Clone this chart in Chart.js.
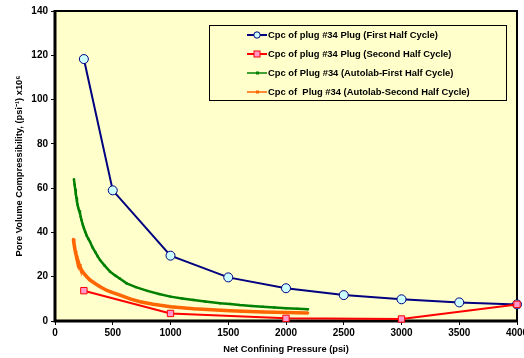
<!DOCTYPE html>
<html><head><meta charset="utf-8">
<script src="https://cdn.jsdelivr.net/npm/chart.js@4"></script>
<style>html,body{margin:0;padding:0;background:#fff}#wrap{width:524px;height:358px}</style>
</head><body><div id="wrap"><canvas id="c" width="524" height="358"></canvas></div>
<script>
const labels1 = ["Cpc of plug #34 Plug (First Half Cycle)","Cpc of plug #34 Plug (Second Half Cycle)","Cpc of Plug #34 (Autolab-First Half Cycle)","Cpc of  Plug #34 (Autolab-Second Half Cycle)"];
const firstP = [250,500,1000,1500,2000,2500,3000,3500,4000];
const firstV = [118.3,59,29.5,19.7,14.8,11.7,9.8,8.4,7.5];
const secondP = [250,1000,2000,3000,4000];
const secondV = [13.7,3.4,1.2,0.9,7.5];
const autoFirstP = [164,170,175,180,185,190,195,200,208,216,223,230,240,250,262,275,290,303,325,350,370,390,430,476,520,560,620,700,800,900,1000,1100,1200,1300,1430,1515,1600,1700,1800,1900,2000,2100,2190];
const autoFirstV = [64,61.5,59.5,57.5,55.7,54,52.6,51.3,50,48.7,47,45.5,43.6,42,40.2,38.5,37,35.8,33.2,31,29.2,27.5,25,22.3,20.6,19.2,17,15.3,13.6,12.2,11,10.2,9.5,8.8,8,7.7,7.2,6.8,6.4,6.1,5.8,5.5,5.3];
const autoSecondP = [159,163,167,170,175,180,185,190,200,208,216,230,250,275,303,350,390,450,500,563,650,736,850,1000,1200,1515,1800,2000,2190];
const autoSecondV = [37,35.5,34,33,31.7,30.5,29.5,28.5,27,25.7,24.5,23,21.5,20,18.5,16.8,15.5,13.8,12.8,11.7,10,8.7,7.6,6.4,5.5,4.6,4.1,3.8,3.6];
const xTicks = [0,500,1000,1500,2000,2500,3000,3500,4000];
const yTicks = [0,20,40,60,80,100,120,140];

const toXY = (p,v)=>p.map((x,i)=>({x:x,y:v[i]}));
const FONT = "'Liberation Sans', Arial, sans-serif";

const bgPlugin = {
  id:'bg',
  beforeDraw(chart){
    const {ctx, chartArea:a} = chart;
    ctx.save(); ctx.fillStyle='#FFFFCC'; ctx.fillRect(a.left,a.top,a.right-a.left,a.bottom-a.top); ctx.restore();
  },
  beforeDatasetsDraw(chart){
    const {ctx, chartArea:a} = chart;
    ctx.save(); ctx.strokeStyle='#000';
    ctx.lineWidth=2; ctx.beginPath(); ctx.moveTo(a.left,a.top); ctx.lineTo(a.right,a.top); ctx.lineTo(a.right,a.bottom); ctx.stroke();
    ctx.lineWidth=3; ctx.beginPath(); ctx.moveTo(a.left,a.top-1); ctx.lineTo(a.left,a.bottom); ctx.lineTo(a.right+1,a.bottom); ctx.stroke();
    ctx.restore();
  },
  afterDraw(chart){
    const {ctx} = chart;
    ctx.save();
    ctx.fillStyle='#FFFFCC'; ctx.fillRect(209,25,297,75);
    ctx.strokeStyle='#000'; ctx.lineWidth=1; ctx.strokeRect(209.5,25.5,297,75);
    const rows=[35,54,73,92];
    const ds = chart.data.datasets;
    ctx.font = "bold 9.4px "+FONT; ctx.textBaseline='middle'; ctx.textAlign='left';
    rows.forEach((y,i)=>{
      const d = ds[i];
      ctx.strokeStyle=d.borderColor; ctx.lineWidth = i<2?2:1.5;
      ctx.beginPath(); ctx.moveTo(247,y); ctx.lineTo(267,y); ctx.stroke();
      if(i===0){ ctx.fillStyle='#CCFFFF'; ctx.strokeStyle='#000080'; ctx.lineWidth=1; ctx.beginPath(); ctx.arc(257,y,3.2,0,Math.PI*2); ctx.fill(); ctx.stroke(); }
      else if(i===1){ ctx.fillStyle='#FF99CC'; ctx.strokeStyle='#FF0000'; ctx.lineWidth=1; ctx.fillRect(254,y-3,6,6); ctx.strokeRect(254,y-3,6,6); }
      else { ctx.fillStyle=d.borderColor; ctx.fillRect(256,y-1.5,3,3); }
      ctx.fillStyle='#000'; ctx.fillText(labels1[i],268,y+0.5);
    });
    ctx.restore();
  }
};

new Chart(document.getElementById('c'),{
  type:'scatter',
  data:{datasets:[
    {label:labels1[0],data:toXY(firstP,firstV),showLine:true,borderColor:'#000080',borderWidth:2,pointRadius:4.5,pointBackgroundColor:'#CCFFFF',pointBorderColor:'#000080',pointBorderWidth:1,clip:false,order:1},
    {label:labels1[1],data:toXY(secondP,secondV),showLine:true,borderColor:'#FF0000',borderWidth:2,pointStyle:'rect',pointRadius:4.5,pointBackgroundColor:'#FF99CC',pointBorderColor:'#FF0000',pointBorderWidth:1,clip:false,order:0},
    {label:labels1[2],data:toXY(autoFirstP,autoFirstV),showLine:true,borderColor:'#008000',borderWidth:2.5,pointStyle:'rect',pointRadius:1.6,pointBackgroundColor:'#008000',pointBorderColor:'#008000',pointBorderWidth:0,clip:false,order:3},
    {label:labels1[3],data:toXY(autoSecondP,autoSecondV),showLine:true,borderColor:'#FF6600',borderWidth:3.5,pointStyle:'rect',pointRadius:1.7,pointBackgroundColor:'#FF6600',pointBorderColor:'#FF6600',pointBorderWidth:0,clip:false,order:2}
  ]},
  options:{
    responsive:false,animation:false,
    layout:{padding:{top:11,right:7,left:0,bottom:0}},
    plugins:{legend:{display:false},tooltip:{enabled:false}},
    scales:{
      x:{type:'linear',min:0,max:4000,
        afterBuildTicks(s){s.ticks=xTicks.map(v=>({value:v}));},
        afterFit(s){s.height=37; s.paddingLeft=0; s.paddingRight=0;},
        border:{display:false},
        grid:{drawOnChartArea:false,drawTicks:true,tickLength:4,color:'#000',lineWidth:1},
        ticks:{color:'#000',font:{family:FONT,size:10,weight:'bold'},padding:2,maxRotation:0,callback:(v)=>String(v)},
        title:{display:true,text:'Net Confining Pressure (psi)',color:'#000',font:{family:FONT,size:9.3,weight:'bold'},padding:{top:1,bottom:3}}
      },
      y:{type:'linear',min:0,max:140,
        afterBuildTicks(s){s.ticks=yTicks.map(v=>({value:v}));},
        afterFit(s){s.width=55; s.paddingTop=0; s.paddingBottom=0;},
        border:{display:false},
        grid:{drawOnChartArea:false,drawTicks:true,tickLength:4,color:'#000',lineWidth:1},
        ticks:{color:'#000',font:{family:FONT,size:10,weight:'bold'},padding:3,callback:(v)=>String(v)},
        title:{display:true,text:'Pore Volume Compressibility, (psi\u207B\u00B9) x10\u2076',color:'#000',font:{family:FONT,size:9.3,weight:'bold'},padding:{top:14,bottom:4}}
      }
    }
  },
  plugins:[bgPlugin]
});
</script></body></html>
